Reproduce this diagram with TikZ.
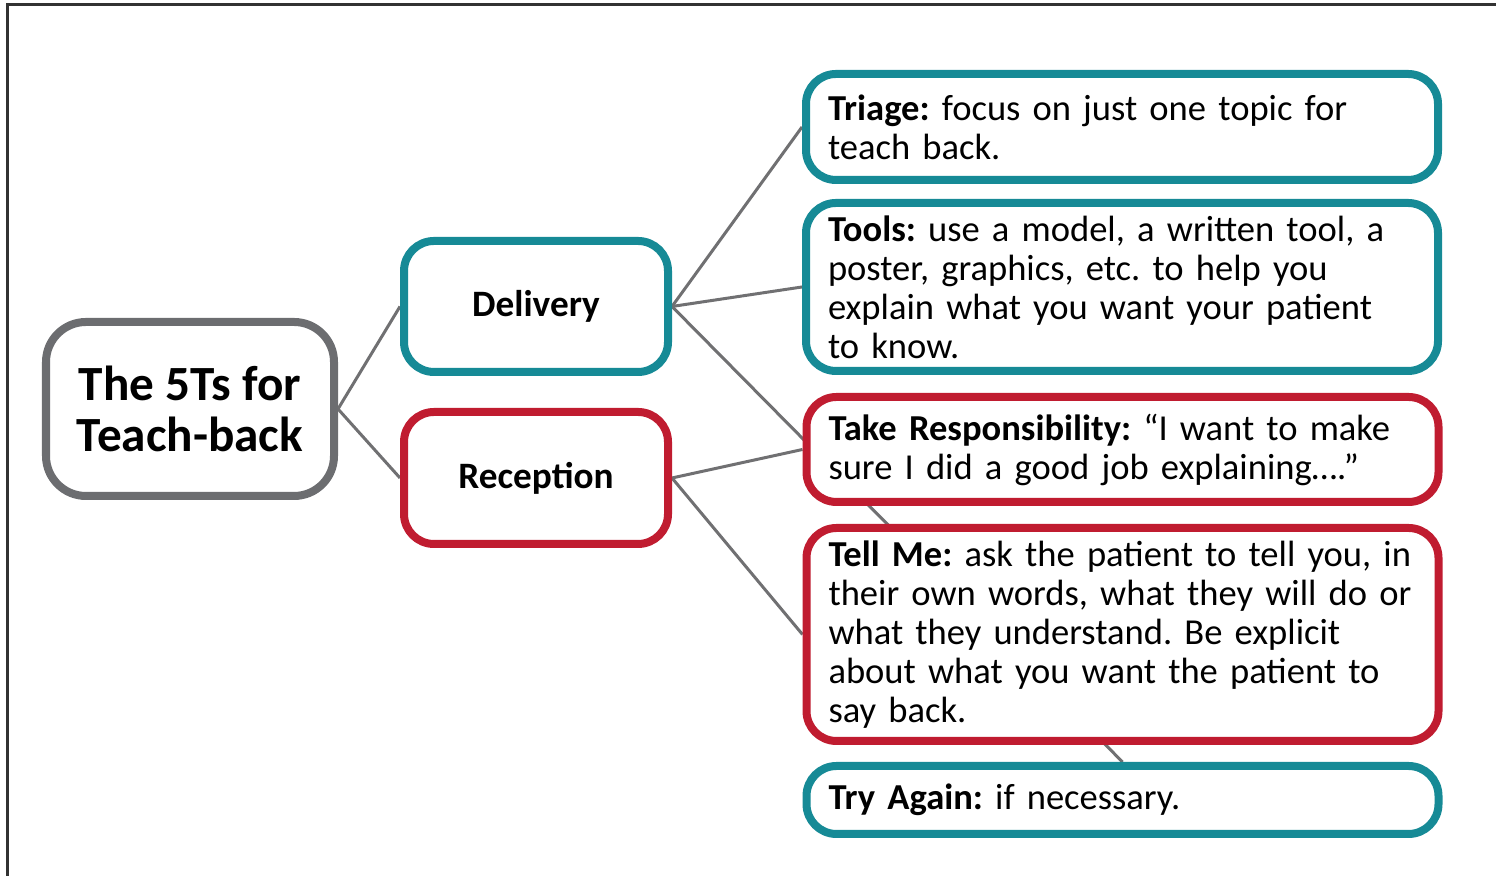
\documentclass[tikz,border=0pt]{standalone}
\usepackage{fontspec}
\setmainfont{Carlito}
\usetikzlibrary{backgrounds}

\definecolor{tbteal}{RGB}{22,138,150}
\definecolor{tbred}{RGB}{192,28,48}
\definecolor{tbgrey}{RGB}{108,109,112}
\definecolor{tblink}{RGB}{112,112,114}
\definecolor{tbframe}{RGB}{50,50,50}

\tikzset{
  tbox/.style={draw, line width=0.08cm, rounded corners=0.3cm, fill=white, inner sep=0pt},
  branch/.style={tbox, minimum width=2.64cm, minimum height=1.31cm,
    font=\fontsize{10.6}{12}\selectfont\bfseries},
  leaf/.style={tbox, minimum width=6.32cm, text width=5.88cm, align=left,
    font=\fontsize{10.4}{11.1}\selectfont\frenchspacing},
  link/.style={tblink, line width=0.03cm},
}

\begin{document}
\begin{tikzpicture}
    \useasboundingbox (0,0) rectangle (14.96,8.76);

    % Rahmen (nur oben und links sichtbar)
    \draw[tbframe, line width=0.03cm] (0.07,0) -- (0.07,8.71) -- (14.96,8.71);

    % Wurzel
    \node[tbox, draw=tbgrey, rounded corners=0.4cm, minimum width=2.88cm, minimum height=1.74cm,
          align=center, font=\fontsize{14}{14.7}\selectfont\bfseries]
          (root) at (1.90,4.67) {The 5Ts for\\Teach-back};

    % Zweige
    \node[branch, draw=tbteal] (delivery) at (5.36,5.695) {Delivery};
    \node[branch, draw=tbred, minimum height=1.32cm] (reception) at (5.36,3.98) {Reception};

    % Blaetter
    \node[leaf, draw=tbteal, minimum height=1.06cm] (triage) at (11.22,7.49)
        {\textbf{Triage:} focus on just one topic for\\teach back.};
    \node[leaf, draw=tbteal, minimum height=1.68cm] (tools) at (11.22,5.89)
        {\textbf{Tools:} use a model, a written tool, a\\poster, graphics, etc. to help you\\explain what you want your patient\\to know.};
    \node[leaf, draw=tbred, minimum height=1.05cm] (takeresp) at (11.225,4.265)
        {\textbf{Take Responsibility:} “I want to make\\sure I did a good job explaining….”};
    \node[leaf, draw=tbred, minimum height=2.13cm] (tellme) at (11.225,2.415)
        {\textbf{Tell Me:} ask the patient to tell you, in\\their own words, what they will do or\\what they understand. Be explicit\\about what you want the patient to\\say back.};
    \node[leaf, draw=tbteal, minimum height=0.68cm] (tryagain) at (11.225,0.76)
        {\textbf{Try Again:} if necessary.};

    % Verbindungen hinter den Kaesten
    \begin{scope}[on background layer]
        \draw[link] (root.east) -- (delivery.west);
        \draw[link] (root.east) -- (reception.west);
        \draw[link] (delivery.east) -- (triage.west);
        \draw[link] (delivery.east) -- (tools.west);
        \draw[link] (delivery.east) -- (tryagain.north);
        \draw[link] (reception.east) -- (takeresp.west);
        \draw[link] (reception.east) -- (tellme.west);
    \end{scope}
\end{tikzpicture}
\end{document}
